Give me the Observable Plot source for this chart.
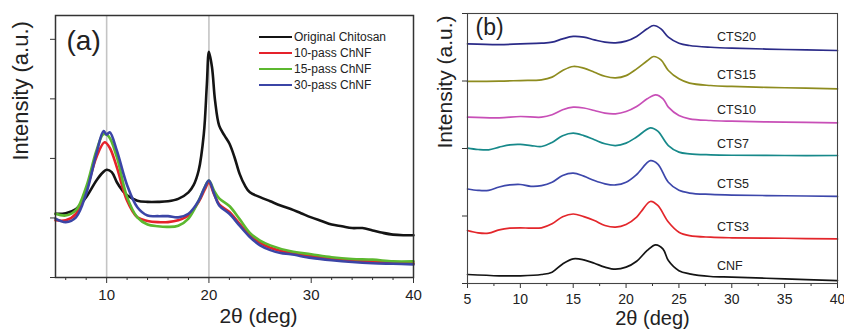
<!DOCTYPE html>
<html><head><meta charset="utf-8">
<script src="https://cdn.jsdelivr.net/npm/d3@7"></script>
<script src="https://cdn.jsdelivr.net/npm/@observablehq/plot@0.6"></script>
<style>
body{margin:0;background:#fff;}
#wrap{position:relative;width:844px;height:329px;font-family:"Liberation Sans",Arial,sans-serif;overflow:hidden;}
#pa,#pb{position:absolute;top:0;}
#pa{left:0;}#pb{left:422px;}
#legend{position:absolute;left:259px;top:29px;font-size:12px;color:#222;}
#legend .row{display:flex;align-items:center;height:16px;}
#legend .sw{width:33px;height:2.5px;margin-right:2px;}
</style></head><body>
<div id="wrap"><div id="pa"></div><div id="pb"></div><div id="legend"></div></div>
<script>
// ---------- Panel (a) ----------
const seriesA = ["Original Chitosan", "10-pass ChNF", "15-pass ChNF", "30-pass ChNF"];
const colorsA = ["#141414", "#e5222b", "#5cb82f", "#3b45a6"];
const chitosan = [[5,1.07],[6,1.08],[7,1.15],[8,1.35],[9,1.63],[9.6,1.76],[10,1.81],[10.5,1.77],[11,1.60],[11.5,1.47],[12,1.38],[13,1.29],[14,1.27],[15,1.27],[16,1.28],[17,1.32],[18,1.43],[18.5,1.55],[19,1.80],[19.5,2.41],[19.8,3.25],[20,3.79],[20.3,3.53],[20.6,2.97],[21,2.55],[21.5,2.39],[22,2.25],[22.5,2.02],[23,1.74],[23.5,1.55],[24,1.43],[25,1.35],[26,1.28],[27,1.21],[28,1.15],[29,1.08],[30,1.01],[31,0.95],[32,0.89],[33,0.86],[34,0.83],[35,0.83],[36,0.79],[37,0.75],[38,0.72],[39,0.71],[40,0.71]];
const pass10 = [[5,0.96],[6,0.96],[7,1.07],[8,1.46],[9,2.02],[9.8,2.27],[10.3,2.18],[11,1.85],[12,1.29],[13,1.01],[14,0.95],[15,0.93],[16,0.93],[17,0.96],[18,1.04],[19,1.27],[19.6,1.48],[20,1.59],[20.5,1.40],[21,1.23],[22,1.10],[23,0.90],[24,0.71],[25,0.58],[26,0.50],[28,0.41],[30,0.36],[32,0.32],[34,0.29],[37,0.26],[40,0.24]];
const pass15 = [[5,1.07],[6,1.04],[7,1.13],[8,1.52],[9,2.13],[9.7,2.41],[10.2,2.37],[11,2.02],[12,1.35],[13,1.01],[14,0.89],[15,0.86],[16,0.85],[17,0.87],[18,0.99],[19,1.29],[19.6,1.52],[20,1.63],[20.5,1.46],[21,1.33],[22,1.20],[23,0.98],[24,0.75],[25,0.62],[26,0.54],[28,0.44],[30,0.39],[32,0.34],[34,0.31],[36,0.30],[38,0.27],[40,0.27]];
const pass30 = [[5,0.99],[6,0.93],[7,1.01],[8,1.41],[9,2.08],[9.7,2.46],[10,2.40],[10.3,2.44],[11,2.13],[12,1.55],[13,1.18],[14,1.04],[15,1.03],[16,1.03],[17,1.01],[18,1.07],[19,1.29],[19.6,1.52],[20,1.63],[20.5,1.41],[21,1.21],[22,1.07],[23,0.87],[24,0.68],[25,0.54],[26,0.46],[27,0.41],[28,0.39],[30,0.33],[32,0.29],[34,0.26],[36,0.24],[38,0.23],[40,0.22]];
const dataA = [chitosan, pass10, pass15, pass30];
const refLinesA = [10, 20];
const xTicksA = [10, 20, 30, 40];
const xMinorA = [6, 8, 12, 14, 16, 18, 22, 24, 26, 28, 32, 34, 36, 38];
const yTicksA = [0, 1, 2, 3, 4];

// ---------- Panel (b) ----------
const seriesB = ["CNF", "CTS3", "CTS5", "CTS7", "CTS10", "CTS15", "CTS20"];
const colorsB = ["#141414", "#e3262b", "#3d47ab", "#17898a", "#c84fb7", "#8e8c1f", "#2b2b88"];
const cnf = [[5,0.133],[8,0.114],[10,0.114],[12,0.133],[13,0.168],[14,0.29],[15,0.365],[16,0.35],[17,0.30],[18,0.242],[19,0.212],[20,0.242],[21,0.33],[22,0.49],[22.8,0.573],[23.5,0.51],[24,0.34],[25,0.19],[26,0.143],[28,0.104],[30,0.094],[35,0.069],[40,0.044]];
const cts3 = [[5,0.785],[6,0.75],[7,0.746],[8,0.795],[9,0.82],[10,0.825],[11,0.82],[12,0.825],[13,0.884],[14,0.99],[15,1.03],[16,0.99],[17,0.933],[18,0.86],[19,0.835],[20,0.874],[21,0.983],[21.5,1.08],[22.3,1.215],[23,1.156],[24,0.91],[25,0.76],[26,0.71],[28,0.686],[30,0.677],[35,0.67],[40,0.66]];
const cts5 = [[5,1.40],[6,1.38],[7,1.38],[8,1.43],[9,1.46],[10,1.467],[11,1.44],[12,1.45],[13,1.50],[14,1.60],[15,1.635],[16,1.59],[17,1.525],[18,1.477],[19,1.46],[20,1.50],[21,1.615],[22.3,1.82],[23,1.77],[24,1.50],[25,1.38],[26,1.34],[28,1.32],[30,1.31],[35,1.30],[40,1.29]];
const cts7 = [[5,2.005],[6,1.985],[7,1.98],[8,2.02],[9,2.054],[10,2.06],[11,2.044],[12,2.03],[13,2.09],[14,2.19],[15,2.227],[16,2.19],[17,2.13],[18,2.07],[19,2.044],[20,2.08],[21,2.17],[22.3,2.306],[23,2.257],[24,2.044],[25,1.946],[26,1.92],[28,1.906],[30,1.90],[35,1.896],[40,1.896]];
const cts10 = [[5,2.464],[8,2.454],[10,2.474],[12,2.464],[13,2.499],[14,2.573],[15,2.612],[16,2.60],[17,2.563],[18,2.523],[19,2.514],[20,2.548],[21,2.622],[22,2.736],[22.8,2.795],[23.5,2.736],[24,2.612],[25,2.489],[26,2.44],[28,2.415],[30,2.405],[35,2.39],[40,2.38]];
const cts15 = [[5,2.993],[8,2.997],[10,3.007],[12,3.017],[13,3.057],[14,3.156],[15,3.215],[16,3.19],[17,3.13],[18,3.07],[19,3.047],[20,3.08],[21,3.18],[22,3.30],[22.6,3.363],[23.3,3.313],[24,3.156],[25,3.032],[26,2.968],[28,2.933],[30,2.919],[35,2.90],[40,2.884]];
const cts20 = [[5,3.55],[8,3.54],[10,3.55],[12,3.56],[13,3.575],[14,3.625],[15,3.66],[16,3.65],[17,3.61],[18,3.575],[19,3.565],[20,3.59],[21,3.66],[22,3.773],[22.6,3.822],[23.3,3.773],[24,3.65],[25,3.56],[26,3.526],[28,3.50],[30,3.486],[35,3.467],[40,3.452]];
const dataB = [cnf, cts3, cts5, cts7, cts10, cts15, cts20];
const xTicksB = [5, 10, 15, 20, 25, 30, 35, 40];
const xMinorB = [7.5, 12.5, 17.5, 22.5, 27.5, 32.5, 37.5];
const yTicksB = [0, 1, 2, 3, 4];
const labelAnchorX = 30;   // curve value read here for the label
const labelTextX = 28.6;

const FONT = '"Liberation Sans", Arial, sans-serif';
const tidy = (arr, name) => arr.map(([x, y]) => ({x, y, name}));

// Panel (a)
const rowsA = dataA.flatMap((arr, i) => tidy(arr, seriesA[i]));
const plotA = Plot.plot({
  width: 422, height: 329,
  marginLeft: 55, marginRight: 9, marginTop: 15, marginBottom: 52,
  style: {fontFamily: FONT, fontSize: "15px", color: "#222", background: "#fff"},
  x: {domain: [5, 40]},
  y: {domain: [0, 4.4]},
  color: {domain: seriesA, range: colorsA},
  marks: [
    Plot.ruleX(refLinesA, {stroke: "#c4c4c4", strokeWidth: 1.6}),
    ...seriesA.map((s) => Plot.line(rowsA.filter(d => d.name === s), {x: "x", y: "y", stroke: "name", strokeWidth: 2.6, curve: "catmull-rom"})),
    Plot.axisX({ticks: xTicksA, tickSize: 6, tickPadding: 6, fontSize: 15, label: null, stroke: "#333"}),
    Plot.axisX({ticks: xMinorA, tickSize: 3, tickFormat: () => "", label: null, stroke: "#333"}),
    Plot.axisY({ticks: yTicksA, tickSize: 5, tickFormat: () => "", label: null, stroke: "#333"}),
    Plot.frame({stroke: "#333", strokeWidth: 1.5}),
    Plot.text(["2θ (deg)"], {frameAnchor: "bottom", dx: 24, dy: 45, fontSize: 21, fill: "#222"}),
    Plot.text(["Intensity (a.u.)"], {frameAnchor: "left", rotate: -90, dx: -35, dy: 14, fontSize: 22, fill: "#222"}),
    Plot.text(["(a)"], {frameAnchor: "top-left", textAnchor: "start", lineAnchor: "top", dx: 11, dy: 15, fontSize: 28, fill: "#222"})
  ]
});
document.getElementById("pa").appendChild(plotA);

// Legend (a)
const leg = document.getElementById("legend");
seriesA.forEach((s, i) => {
  const r = document.createElement("div"); r.className = "row";
  const sw = document.createElement("span"); sw.className = "sw"; sw.style.background = colorsA[i];
  const t = document.createElement("span"); t.textContent = s;
  r.appendChild(sw); r.appendChild(t); leg.appendChild(r);
});

// Panel (b)
const rowsB = dataB.flatMap((arr, i) => tidy(arr, seriesB[i]));
const labelsB = dataB.map((arr, i) => ({name: seriesB[i], x: labelTextX, y: arr.find(p => p[0] === labelAnchorX)[1]}));
const plotB = Plot.plot({
  width: 422, height: 329,
  marginLeft: 45, marginRight: 7, marginTop: 13, marginBottom: 46,
  style: {fontFamily: FONT, fontSize: "14px", color: "#222", background: "#fff"},
  x: {domain: [5, 40]},
  y: {domain: [0, 4]},
  color: {domain: seriesB, range: colorsB},
  marks: [
    ...seriesB.map((s) => Plot.line(rowsB.filter(d => d.name === s), {x: "x", y: "y", stroke: "name", strokeWidth: 1.7, curve: "catmull-rom"})),
    Plot.text(labelsB, {x: "x", y: "y", text: "name", textAnchor: "start", dy: -11, fontSize: 12.5, fill: "#222"}),
    Plot.axisX({ticks: xTicksB, tickSize: 5, tickPadding: 6, fontSize: 14, label: null, stroke: "#333"}),
    Plot.axisX({ticks: xMinorB, tickSize: 3, tickFormat: () => "", label: null, stroke: "#333"}),
    Plot.axisY({ticks: yTicksB, tickSize: 5, tickFormat: () => "", label: null, stroke: "#333"}),
    Plot.frame({stroke: "#444", strokeWidth: 1.1}),
    Plot.text(["2θ (deg)"], {frameAnchor: "bottom", dy: 41, fontSize: 20, fill: "#222"}),
    Plot.text(["Intensity (a.u.)"], {frameAnchor: "left", rotate: -90, dx: -22, fontSize: 21, fill: "#222"}),
    Plot.text(["(b)"], {frameAnchor: "top-left", textAnchor: "start", lineAnchor: "top", dx: 8, dy: 5, fontSize: 23, fill: "#222"})
  ]
});
document.getElementById("pb").appendChild(plotB);
</script>
</body></html>
